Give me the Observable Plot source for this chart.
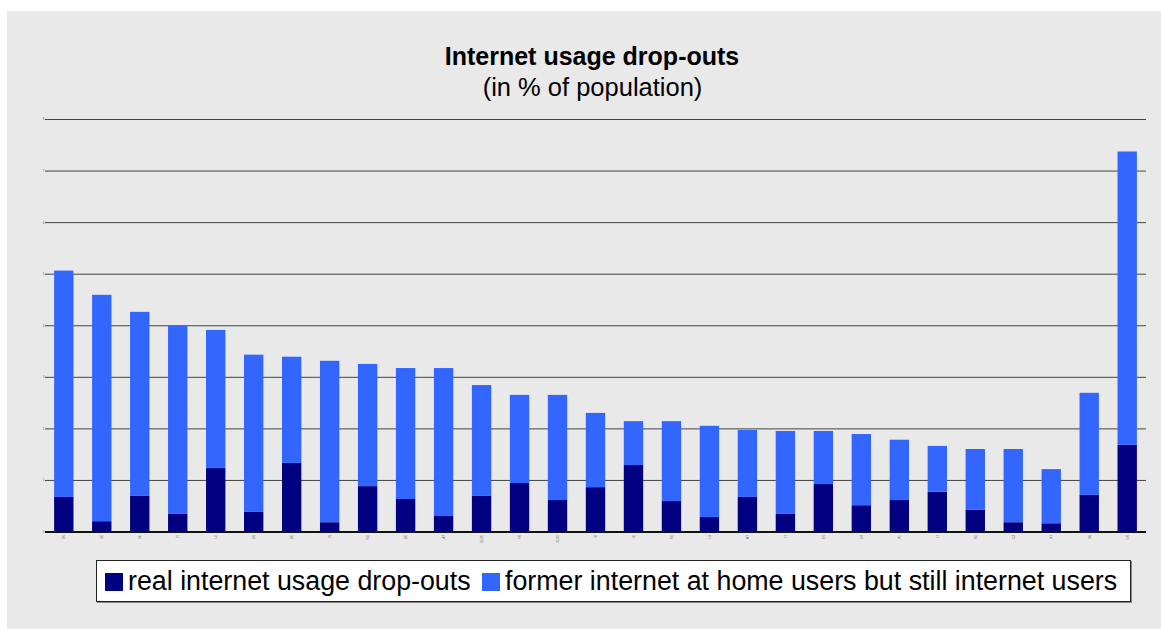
<!DOCTYPE html>
<html>
<head>
<meta charset="utf-8">
<script src="https://cdn.jsdelivr.net/npm/d3@7"></script>
<script src="https://cdn.jsdelivr.net/npm/@observablehq/plot@0.6"></script>
<style>
  html, body { margin: 0; padding: 0; background: #ffffff; width: 1161px; height: 629px; overflow: hidden; }
  #bg { position: absolute; left: 7px; top: 11px; width: 1154px; height: 618px; background: #e9e9e9; }
  #title { position: absolute; left: 0; width: 1184px; top: 42px; line-height: 29px; text-align: center; font-family: "Liberation Sans", Arial, sans-serif; font-weight: bold; font-size: 25px; color: #000; }
  #subtitle { position: absolute; left: 0; width: 1185px; top: 73px; line-height: 29px; text-align: center; font-family: "Liberation Sans", Arial, sans-serif; font-size: 25.5px; color: #000; }
  #chart { position: absolute; left: 0; top: 0; }
  #legend { position: absolute; left: 96px; top: 560px; width: 1033px; height: 40px; background: #fff; border: 1px solid #222; box-shadow: 1px 1px 0 #888; font-family: "Liberation Sans", Arial, sans-serif; font-size: 26.8px; color: #000; }
  .item { position: absolute; top: 5px; white-space: nowrap; line-height: 30px; }
  .sw { display: inline-block; width: 18px; height: 18px; vertical-align: -1px; margin-right: 5px; }
</style>
</head>
<body>
<div id="bg"></div>
<div id="title">Internet usage drop-outs</div>
<div id="subtitle">(in % of population)</div>
<div id="chart"></div>
<div id="legend"></div>
<script>
const countries = ["DK","SE","NL","FI","LU","UK","DE","IS","NO","BE","AT","EU25","FR","EU15","SI","IE","EE","LV","MT","IT","ES","CY","PL","LT","HU","CZ","PT","SK","GR"];
const realDropouts = [0.67,0.20,0.69,0.34,1.23,0.38,1.33,0.18,0.88,0.63,0.30,0.69,0.94,0.61,0.86,1.29,0.59,0.28,0.67,0.34,0.92,0.51,0.61,0.77,0.42,0.18,0.16,0.71,1.68];
const formerHomeUsers = [4.39,4.39,3.57,3.65,2.68,3.05,2.06,3.13,2.37,2.54,2.87,2.15,1.71,2.04,1.44,0.85,1.55,1.77,1.30,1.61,1.03,1.38,1.17,0.89,1.18,1.42,1.05,1.98,5.69];
const seriesNames = ["real internet usage drop-outs", "former internet at home users but still internet users"];
const seriesColors = ["#000080", "#3366ff"];
const yTicks = [0,1,2,3,4,5,6,7,8];

const rows = [];
countries.forEach((c, i) => {
  rows.push({country: c, series: seriesNames[0], value: realDropouts[i]});
  rows.push({country: c, series: seriesNames[1], value: formerHomeUsers[i]});
});

const plot = Plot.plot({
  width: 1161,
  height: 560,
  marginLeft: 45,
  marginRight: 15,
  marginTop: 119,
  marginBottom: 28.5,
  style: "background: transparent; overflow: visible; font-family: 'Liberation Sans', Arial, sans-serif;",
  x: {domain: countries, paddingInner: 0.49, paddingOuter: 0.24, round: false, label: null},
  y: {domain: [0, 8], label: null},
  color: {domain: seriesNames, range: seriesColors},
  marks: [
    Plot.ruleY(yTicks.filter(d => d > 0), {stroke: "#444", strokeWidth: 1}),
    Plot.barY(rows, {x: "country", y: "value", fill: "series", order: seriesNames}),
    Plot.ruleY([0], {stroke: "#111", strokeWidth: 2}),
    Plot.axisY({ticks: yTicks, tickSize: 0, tickPadding: 1, fontSize: 3, fill: "#666", label: null}),
    Plot.axisX({tickSize: 0, tickPadding: 3, fontSize: 3, fill: "#666", tickRotate: -90, label: null})
  ]
});
document.getElementById("chart").appendChild(plot);

const legend = document.getElementById("legend");
const xs = [8, 385];
seriesNames.forEach((s, i) => {
  const it = document.createElement("div");
  it.className = "item";
  it.style.left = xs[i] + "px";
  const sw = document.createElement("span");
  sw.className = "sw";
  sw.style.background = seriesColors[i];
  it.appendChild(sw);
  it.appendChild(document.createTextNode(s));
  legend.appendChild(it);
});
</script>
</body>
</html>
